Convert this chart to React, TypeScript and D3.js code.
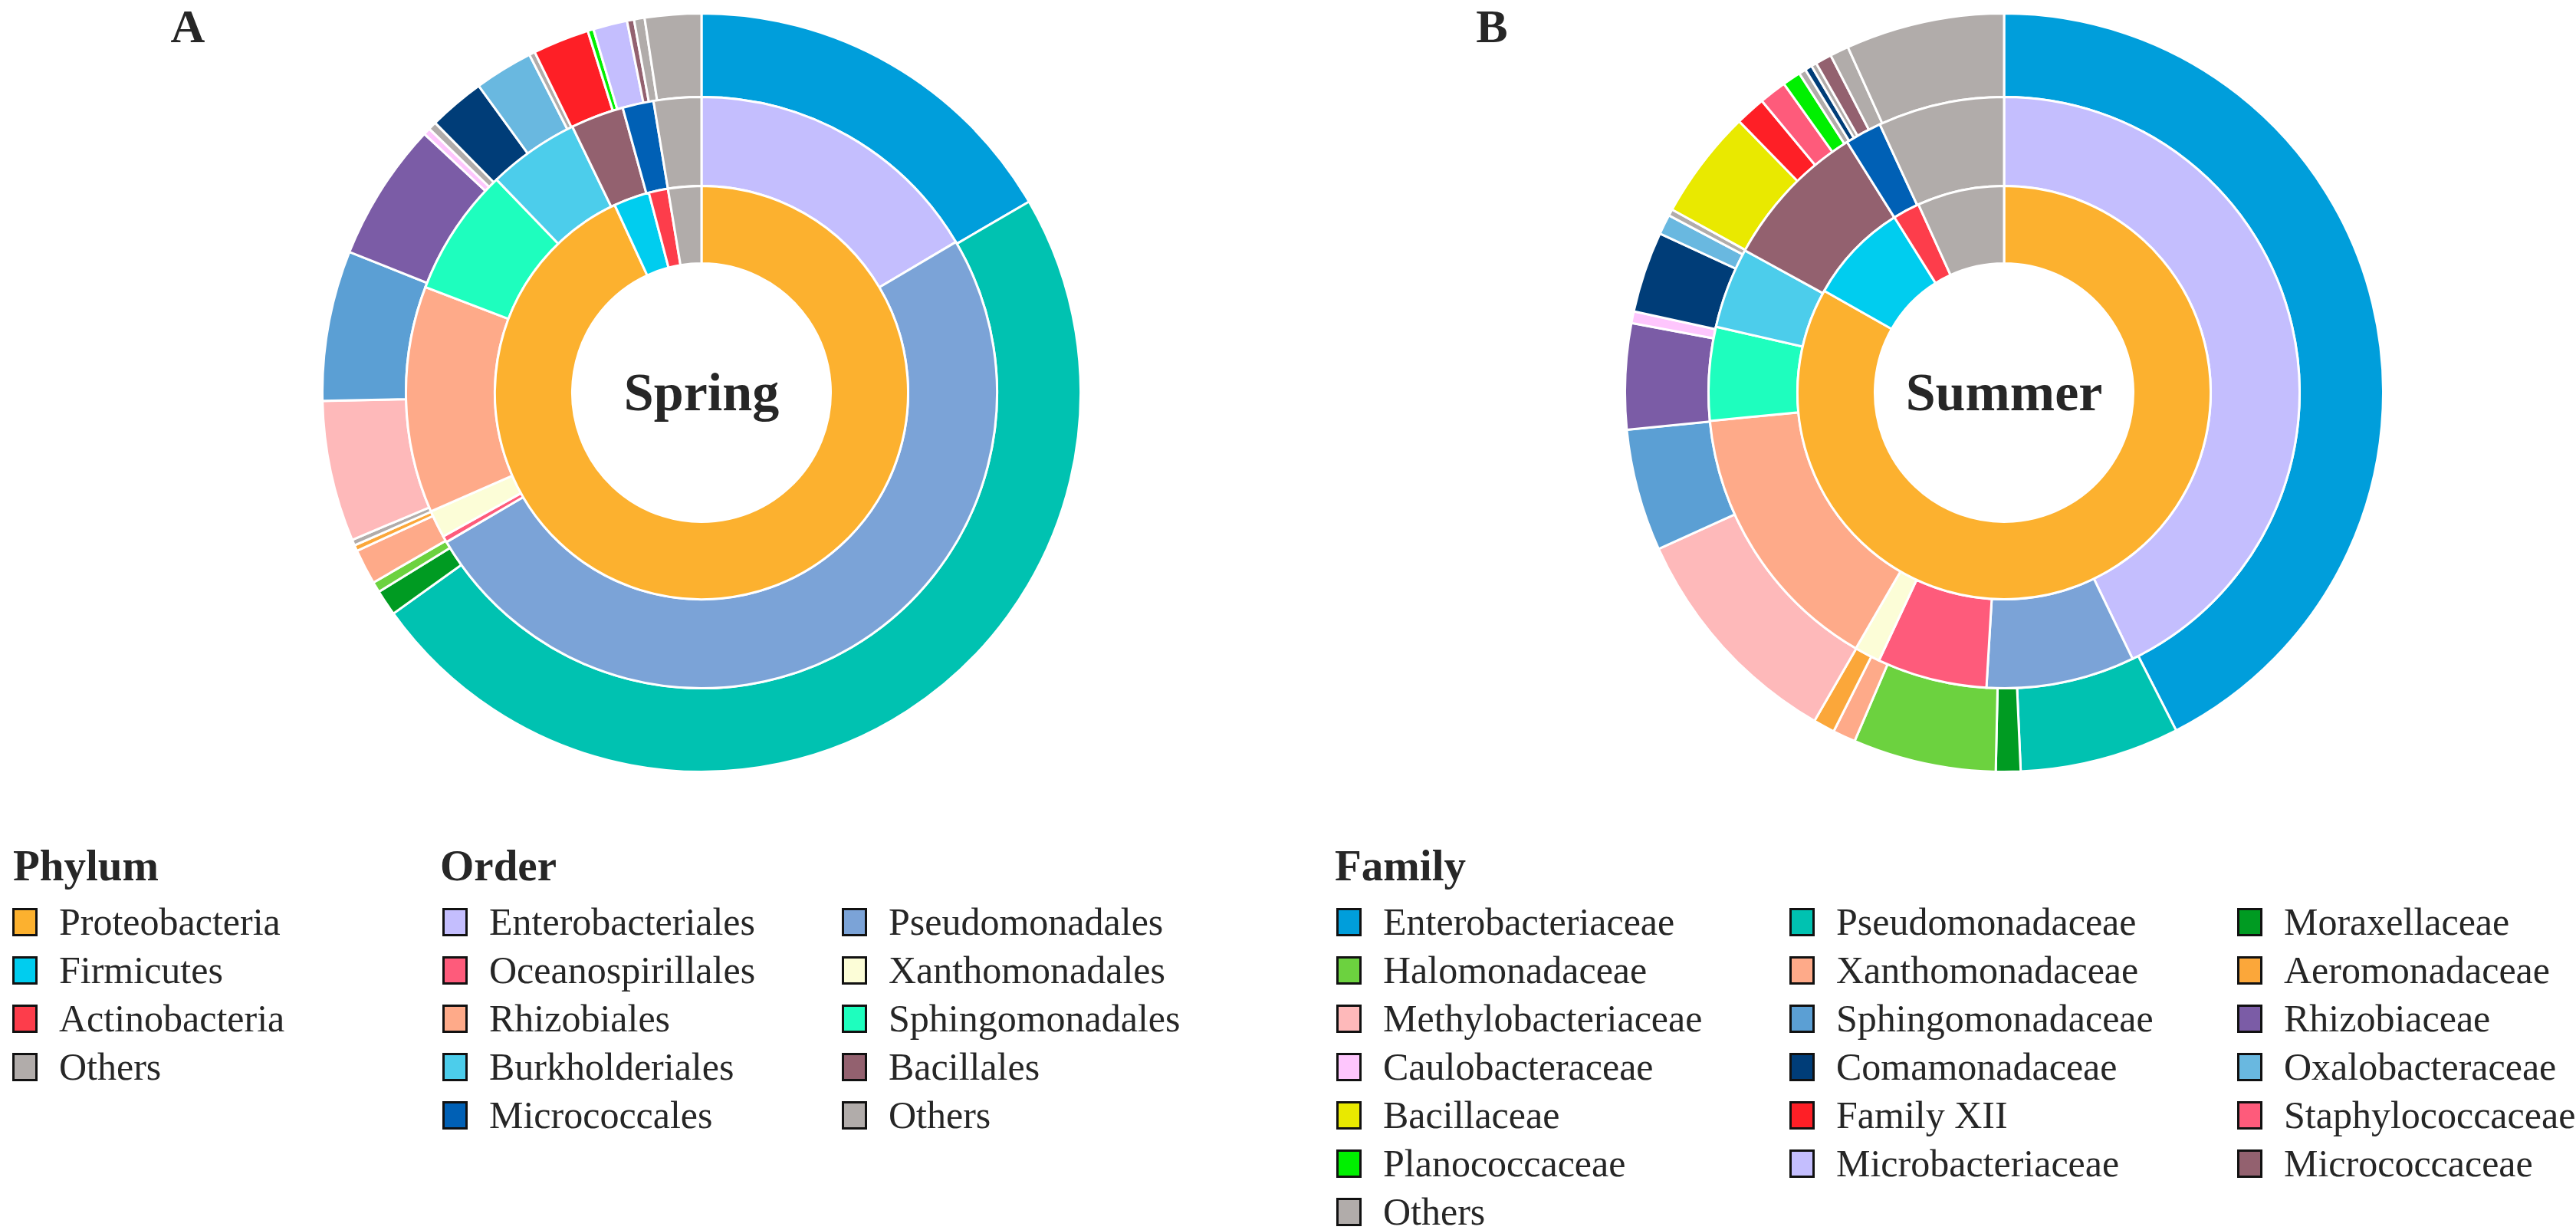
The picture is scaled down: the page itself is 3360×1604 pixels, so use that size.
import React from "react";
import * as d3 from "d3";

// ---------- DATA ----------
const phylumLabels = ["Proteobacteria", "Firmicutes", "Actinobacteria", "Others"];
const phylumColors = ["#FCB12F", "#00CDEF", "#FD3D4B", "#B1ACAA"];
const phylumSpring = [93.1, 2.8, 1.5, 2.6];
const phylumSummer = [83.2, 7.9, 2.1, 6.8];

const orderLabels = [
  "Enterobacteriales", "Pseudomonadales", "Oceanospirillales", "Xanthomonadales",
  "Rhizobiales", "Sphingomonadales", "Burkholderiales", "Bacillales",
  "Micrococcales", "Others",
];
const orderColors = [
  "#C4BEFE", "#7BA3D7", "#FE5B7B", "#FCFDD7",
  "#FEAA89", "#1EFEBE", "#4CCDEB", "#93616F",
  "#0060B5", "#B1ACAA",
];
const orderSpring = [16.5, 50.1, 0.35, 1.5, 12.4, 7.0, 5.0, 2.9, 1.7, 2.6];
const orderSummer = [42.8, 8.1, 6.0, 1.4, 15.1, 5.1, 4.4, 8.1, 2.0, 6.9];

const familyLabels = [
  "Enterobacteriaceae", "Pseudomonadaceae", "Moraxellaceae",
  "Halomonadaceae", "Xanthomonadaceae", "Aeromonadaceae",
  "Methylobacteriaceae", "Sphingomonadaceae", "Rhizobiaceae",
  "Caulobacteraceae", "Comamonadaceae", "Oxalobacteraceae",
  "Bacillaceae", "Family XII", "Staphylococcaceae",
  "Planococcaceae", "Microbacteriaceae", "Micrococcaceae",
  "Others",
];
const familyColors = [
  "#009EDB", "#00C2B1", "#009B22",
  "#6CD23F", "#FEAA89", "#FBA73A",
  "#FEB9BA", "#5B9FD4", "#7B5CA6",
  "#FEC6FD", "#003D78", "#69B8E0",
  "#E9E900", "#FE1F26", "#FE5B7B",
  "#00F000", "#C4BEFE", "#93616F",
  "#B1ACAA",
];

const familySpringNames = [
  "Enterobacteriaceae", "Pseudomonadaceae", "Moraxellaceae", "Halomonadaceae",
  "Xanthomonadaceae", "Aeromonadaceae", "Others", "Methylobacteriaceae",
  "Sphingomonadaceae", "Rhizobiaceae", "Caulobacteraceae", "Others",
  "Comamonadaceae", "Oxalobacteraceae", "Others", "Family XII",
  "Planococcaceae", "Microbacteriaceae", "Micrococcaceae", "Others", "Others",
];
const familySpringValues = [
  16.6, 48.5, 1.1, 0.45,
  1.5, 0.25, 0.25, 6.0,
  6.4, 5.9, 0.3, 0.35,
  2.4, 2.5, 0.25, 2.4,
  0.25, 1.45, 0.3, 0.45, 2.4,
];

const familySummerNames = [
  "Enterobacteriaceae", "Pseudomonadaceae", "Moraxellaceae", "Halomonadaceae",
  "Xanthomonadaceae", "Aeromonadaceae", "Methylobacteriaceae", "Sphingomonadaceae",
  "Rhizobiaceae", "Caulobacteraceae", "Comamonadaceae", "Oxalobacteraceae",
  "Others", "Bacillaceae", "Family XII", "Staphylococcaceae",
  "Planococcaceae", "Others", "Comamonadaceae", "Others",
  "Micrococcaceae", "Others", "Others",
];
const familySummerValues = [
  42.5, 6.8, 1.05, 6.1,
  0.97, 0.92, 9.9, 5.2,
  4.5, 0.5, 3.45, 0.85,
  0.28, 4.67, 1.28, 1.17,
  0.78, 0.3, 0.3, 0.23,
  0.69, 0.8, 6.76,
];

const panelLetters = ["A", "B"];
const seasonLabels = ["Spring", "Summer"];

// ---------- LAYOUT ----------
const W = 3360;
const H = 1604;
const FONT = "'Liberation Serif', 'Times New Roman', serif";
const centersX = [915, 2614];
const centerY = 512;
const radii = [168.5, 269.5, 385.5, 494.5];

const phylumColor = d3.scaleOrdinal<string, string>(phylumLabels, phylumColors);
const orderColor = d3.scaleOrdinal<string, string>(orderLabels, orderColors);
const familyColor = d3.scaleOrdinal<string, string>(familyLabels, familyColors);

type Slice = { name: string; value: number };

function Ring({ data, r0, r1, color }: { data: Slice[]; r0: number; r1: number; color: (n: string) => string }) {
  const pie = d3.pie<Slice>().sort(null).value((d) => d.value).startAngle(0).endAngle(2 * Math.PI);
  const arc = d3.arc<d3.PieArcDatum<Slice>>().innerRadius(r0).outerRadius(r1);
  return (
    <g>
      {pie(data).map((a, i) => (
        <path key={i} d={arc(a) || ""} fill={color(a.data.name)} stroke="#ffffff" strokeWidth={3} strokeLinejoin="miter" />
      ))}
    </g>
  );
}

function Donut({ idx, phylum, order, famNames, famVals }: { idx: number; phylum: number[]; order: number[]; famNames: string[]; famVals: number[] }) {
  const cx = centersX[idx];
  const ph = phylumLabels.map((n, i) => ({ name: n, value: phylum[i] }));
  const or = orderLabels.map((n, i) => ({ name: n, value: order[i] }));
  const fa = famNames.map((n, i) => ({ name: n, value: famVals[i] }));
  return (
    <g transform={`translate(${cx},${centerY})`}>
      <Ring data={fa} r0={radii[2]} r1={radii[3]} color={familyColor} />
      <Ring data={or} r0={radii[1]} r1={radii[2]} color={orderColor} />
      <Ring data={ph} r0={radii[0]} r1={radii[1]} color={phylumColor} />
      <text x={0} y={23} textAnchor="middle" fontFamily={FONT} fontWeight="bold" fontSize={70} fill="#262626">
        {seasonLabels[idx]}
      </text>
    </g>
  );
}

function LegendBlock({ title, x, colXs, labels, color, ncol }: { title: string; x: number; colXs: number[]; labels: string[]; color: (n: string) => string; ncol: number }) {
  const rowY = (r: number) => 1218.5 + r * 63;
  return (
    <g>
      <text x={x} y={1148} fontFamily={FONT} fontWeight="bold" fontSize={57} fill="#262626">{title}</text>
      {labels.map((l, i) => {
        const c = i % ncol;
        const r = Math.floor(i / ncol);
        const sx = colXs[c];
        const by = rowY(r);
        return (
          <g key={l + i}>
            <rect x={sx + 1.5} y={by - 33} width={30} height={34} fill={color(l)} stroke="#111" strokeWidth={3} />
            <text x={sx + 61} y={by} fontFamily={FONT} fontSize={50} fill="#262626">{l}</text>
          </g>
        );
      })}
    </g>
  );
}

export default function App() {
  React.useEffect(() => {
    document.body.style.margin = "0";
  }, []);
  return (
    <svg width={W} height={H} viewBox={`0 0 ${W} ${H}`} style={{ display: "block", position: "absolute", left: 0, top: 0, background: "#fff" }}>
      <rect x={0} y={0} width={W} height={H} fill="#fff" />
      <text x={245} y={55} textAnchor="middle" fontFamily={FONT} fontWeight="bold" fontSize={62} fill="#262626">{panelLetters[0]}</text>
      <text x={1946} y={55} textAnchor="middle" fontFamily={FONT} fontWeight="bold" fontSize={62} fill="#262626">{panelLetters[1]}</text>
      <Donut idx={0} phylum={phylumSpring} order={orderSpring} famNames={familySpringNames} famVals={familySpringValues} />
      <Donut idx={1} phylum={phylumSummer} order={orderSummer} famNames={familySummerNames} famVals={familySummerValues} />
      <LegendBlock title="Phylum" x={17} colXs={[16]} labels={phylumLabels} color={phylumColor} ncol={1} />
      <LegendBlock title="Order" x={574} colXs={[577, 1098]} labels={orderLabels} color={orderColor} ncol={2} />
      <LegendBlock title="Family" x={1741} colXs={[1743, 2334, 2918]} labels={familyLabels} color={familyColor} ncol={3} />
    </svg>
  );
}
